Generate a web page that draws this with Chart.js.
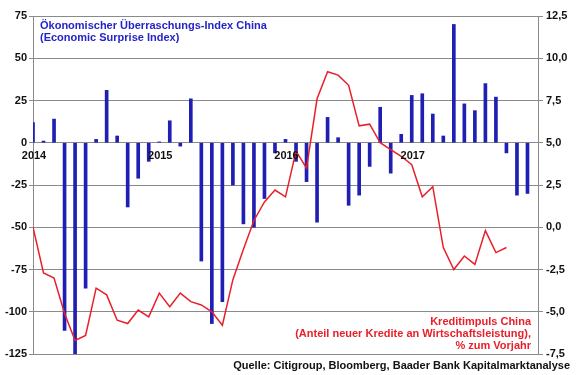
<!DOCTYPE html>
<html lang="de">
<head>
  <meta charset="UTF-8">
  <title>Überraschungs-Index China / Kreditimpuls</title>
  <script src="https://cdn.jsdelivr.net/npm/chart.js"></script>
  <style>
    body { margin: 0; font-family: "Liberation Sans", Arial, sans-serif; }
    #wrap { position: relative; width: 580px; height: 375px; background: #fff; }
    .txt { position: absolute; font-weight: bold; font-size: 11px; line-height: 12px; white-space: nowrap; }
    #title { left: 40px; top: 19px; color: #2424c8; }
    #credit { right: 49px; top: 315px; color: #e8202a; text-align: right; }
    #source { right: 10px; top: 359px; color: #111; }
  </style>
</head>
<body>
  <div id="wrap">
    <canvas id="chartCanvas" width="580" height="375"></canvas>
    <div class="txt" id="title">Ökonomischer Überraschungs-Index China<br>(Economic Surprise Index)</div>
    <div class="txt" id="credit">Kreditimpuls China<br>(Anteil neuer Kredite an Wirtschaftsleistung),<br>% zum Vorjahr</div>
    <div class="txt" id="source">Quelle: Citigroup, Bloomberg, Baader Bank Kapitalmarktanalyse</div>
  </div>

  <script>
    // Monatswerte Jan 2014 - Dez 2017
    const surprise = [12, 1, 14, -111, -125, -86, 2, 31, 4, -38, -21, -11,
      0.5, 13, -2, 26, -70, -107, -94, -25, -48, -50, -33, -6,
      2, -11, -23, -47, 15, 3, -37, -31, -14, 21, -18, 5,
      28, 29, 17, 4, 70, 23, 19, 35, 27, -6, -31, -30];

    // Kreditimpuls in %, Jan 2014 - Okt 2017
    const credit = [0.0, -2.7, -3.0, -5.1, -6.7, -6.4, -3.6, -4.0, -5.5, -5.7, -4.9, -5.3,
      -3.9, -4.7, -3.9, -4.4, -4.6, -5.0, -5.8, -3.1, -1.3, 0.4, 1.5, 2.2,
      1.8, 4.5, 3.5, 7.6, 9.2, 9.0, 8.4, 6.0, 6.1, 5.0, 4.6, 4.2,
      3.7, 1.8, 2.4, -1.2, -2.5, -1.7, -2.2, -0.2, -1.5, -1.2];

    const yearTicks = [0, 12, 24, 36];
    const yearLabels = ["2014", "2015", "2016", "2017"];

    const tickFont = { family: "Liberation Sans", size: 11, weight: "bold" };
    const gridColor = "#8a8a8a";

    // Jahreszahlen direkt unter der Nulllinie
    const yearLabelPlugin = {
      id: "yearLabels",
      afterDraw(chart) {
        const { ctx, scales } = chart;
        const y0 = scales.y.getPixelForValue(0);
        ctx.save();
        ctx.font = "bold 11px 'Liberation Sans', Arial, sans-serif";
        ctx.fillStyle = "#111";
        ctx.textAlign = "center";
        ctx.textBaseline = "top";
        yearTicks.forEach((v, i) => {
          ctx.fillText(yearLabels[i], scales.x.getPixelForValue(v) + 1, y0 + 8);
        });
        ctx.restore();
      }
    };

    const ctx = document.getElementById("chartCanvas").getContext("2d");
    new Chart(ctx, {
      type: "bar",
      data: {
        datasets: [
          {
            type: "line",
            label: "Kreditimpuls China",
            data: credit.map((v, i) => ({ x: i, y: v })),
            borderColor: "#e8202a",
            borderWidth: 1.5,
            pointRadius: 0,
            tension: 0,
            yAxisID: "y2",
            order: 0
          },
          {
            type: "bar",
            label: "Überraschungs-Index",
            data: surprise.map((v, i) => ({ x: i, y: v })),
            backgroundColor: "#1f1fb4",
            barThickness: 3,
            yAxisID: "y",
            order: 1
          }
        ]
      },
      options: {
        responsive: false,
        animation: false,
        layout: { padding: { top: 16, bottom: 21, left: 0, right: 0 } },
        plugins: { legend: { display: false }, tooltip: { enabled: false } },
        scales: {
          x: {
            type: "linear",
            position: "bottom",
            offset: false,
            min: 0,
            max: 48,
            grid: { display: false, offset: false },
            border: { display: false },
            ticks: { display: false },
            afterFit: s => { s.height = 0; }
          },
          y: {
            position: "left",
            min: -125,
            max: 75,
            afterFit: s => { s.width = 33; },
            ticks: { stepSize: 25, font: tickFont, color: "#111", padding: 2 },
            grid: { color: gridColor, tickLength: 4, lineWidth: 1 },
            border: { color: gridColor }
          },
          y2: {
            position: "right",
            min: -7.5,
            max: 12.5,
            afterFit: s => { s.width = 42; },
            ticks: {
              stepSize: 2.5,
              font: tickFont,
              color: "#111",
              padding: 3,
              callback: v => v.toFixed(1).replace(".", ",")
            },
            grid: { drawOnChartArea: false, color: gridColor, tickLength: 5 },
            border: { color: gridColor }
          }
        }
      },
      plugins: [yearLabelPlugin]
    });
  </script>
</body>
</html>
